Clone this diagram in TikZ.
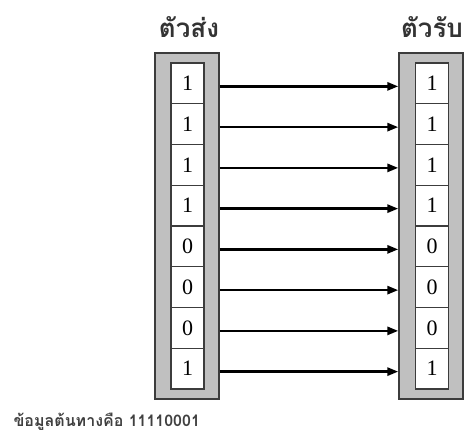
\documentclass[tikz,border=0pt]{standalone}
\usepackage{fontspec}
\setmainfont{Liberation Serif}
\newfontfamily\thaifont[Script=Thai]{Loma}
\usetikzlibrary{arrows.meta}
\definecolor{boxgray}{RGB}{192,192,192}
\definecolor{edge}{RGB}{60,60,60}
\begin{document}
\begin{tikzpicture}[x=1pt,y=-1pt,
  outerbox/.style={draw=edge,line width=1.3pt,fill=boxgray},
  cellbox/.style={draw=edge,line width=1.3pt,fill=white,minimum width=33pt,minimum height=40.75pt,inner sep=0pt,font=\fontsize{22}{22}\selectfont},
  sig/.style={line width=2.6pt,-{Triangle[length=11pt,width=8pt]}},
  title/.style={font=\thaifont\bfseries\fontsize{26}{26}\selectfont,text=black!80}]
\useasboundingbox (0,0) rectangle (466,440);
\node[outerbox,minimum width=64pt,minimum height=346pt,inner sep=0pt] (S) at (187,226) {};
\node[outerbox,minimum width=64pt,minimum height=346pt,inner sep=0pt] (R) at (431,226) {};
\node[title] (ts) at (189,27) {ตัวส่ง};
\node[title] (tr) at (432,27) {ตัวรับ};
\foreach \b [count=\i] in {1,1,1,1,0,0,0,1}{
  \node[cellbox] (s\i) at (187.5,{63+40.75*(\i-0.5)}) {\b};
  \node[cellbox] (r\i) at (432,{63+40.75*(\i-0.5)}) {\b};
  \coordinate (a\i) at (S.east |- 0,{63+40.75*(\i-0.5)+3});
  \coordinate (b\i) at (R.west |- 0,{63+40.75*(\i-0.5)+3});
  \draw[sig] (a\i) -- (b\i);
}
\node[font=\thaifont\bfseries\fontsize{16}{16}\selectfont,text=black!75,anchor=west] (cap) at (10,422) {ข้อมูลต้นทางคือ 11110001};
\end{tikzpicture}
\end{document}
